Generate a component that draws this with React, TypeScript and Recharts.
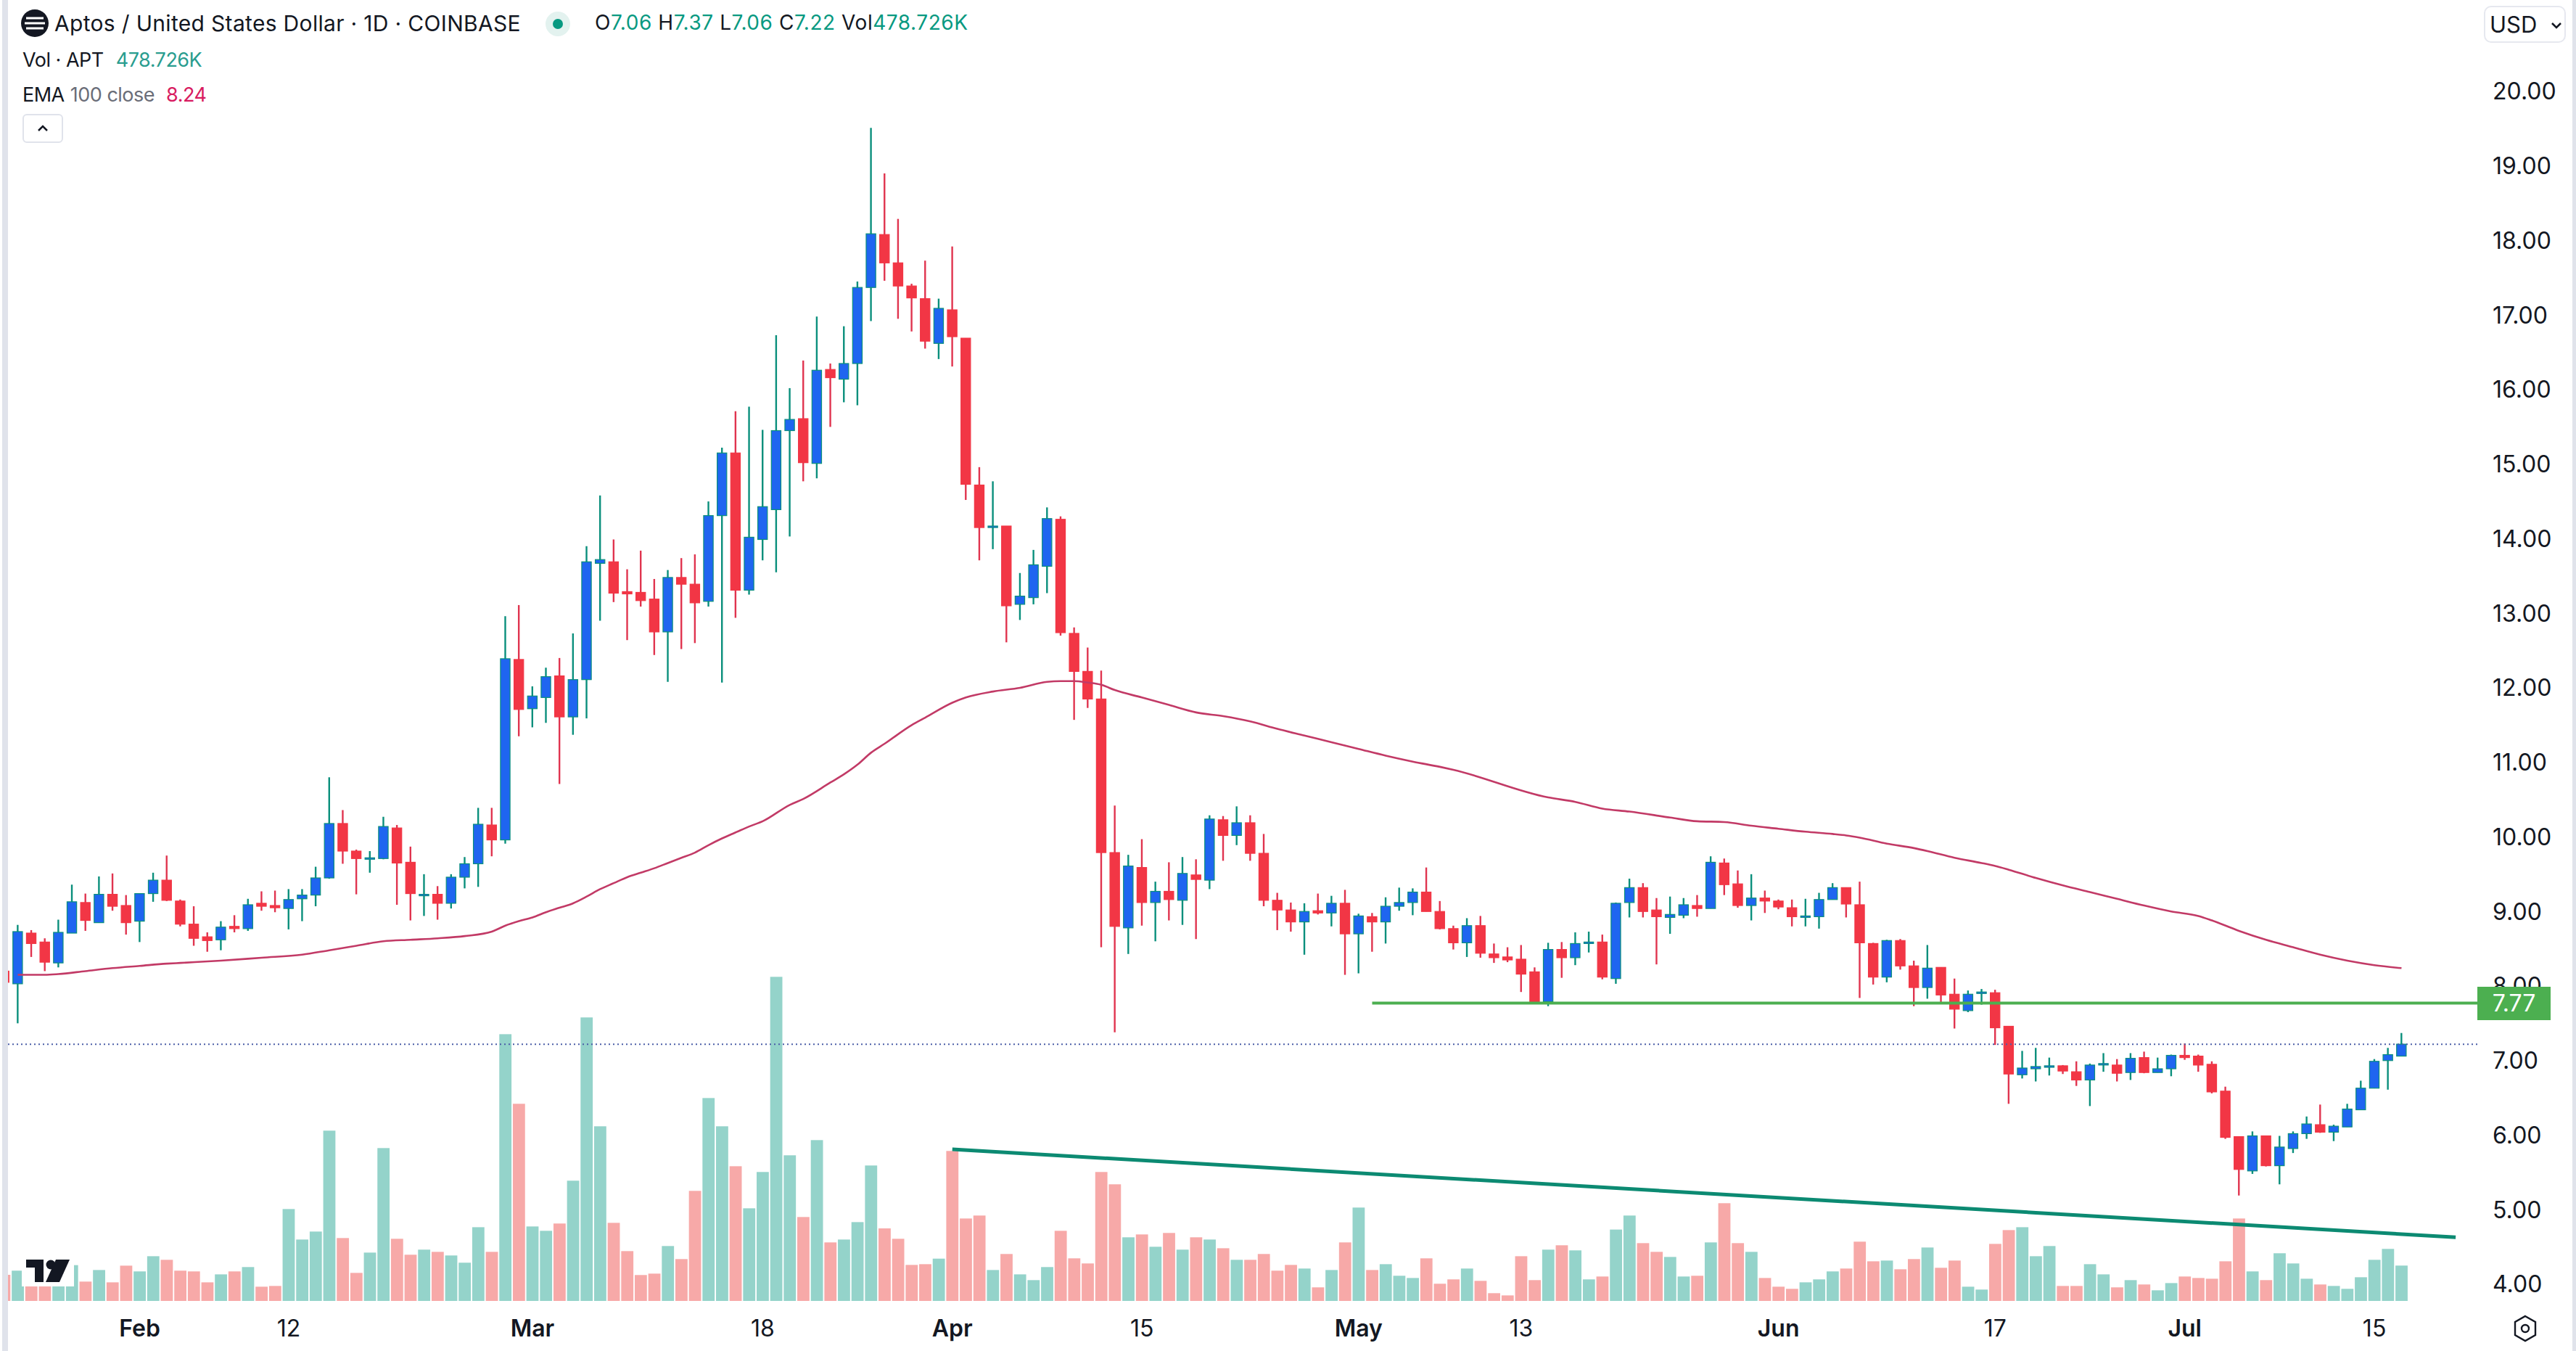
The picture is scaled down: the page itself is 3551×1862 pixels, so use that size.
import { Bar, ComposedChart, Line, ReferenceLine, XAxis, YAxis } from "recharts";

// bar index -1 is the clipped sliver at the left edge, 176 is the last bar (Jul 17)
const firstIndex = -1;

const opens = [
  8.2,
  8.03, 8.71, 8.59, 8.31, 8.71, 9.12, 8.85, 9.23, 9.08, 8.87,
  9.24, 9.42, 9.14, 8.83, 8.66, 8.62, 8.8, 8.77, 9.11, 9.08,
  9.04, 9.17, 9.22, 9.45, 10.18, 9.81, 9.71, 9.71, 10.12, 9.66,
  9.22, 9.23, 9.11, 9.46, 9.64, 10.16, 9.96, 12.38, 11.72, 11.87,
  12.16, 11.61, 12.11, 13.67, 13.69, 13.29, 13.28, 13.19, 12.75, 13.48,
  13.39, 13.16, 14.31, 15.15, 13.31, 13.99, 14.39, 15.45, 15.61, 15.01,
  16.27, 16.14, 16.35, 17.37, 18.08, 17.7, 17.39, 17.22, 16.62, 17.07,
  16.69, 14.72, 14.15, 14.17, 13.12, 13.21, 13.63, 14.26, 12.73, 12.22,
  11.85, 9.79, 8.78, 9.59, 9.12, 9.27, 9.15, 9.49, 9.42, 10.23,
  10.02, 10.19, 9.78, 9.15, 9.02, 8.86, 9.01, 8.98, 9.11, 8.7,
  8.93, 8.86, 9.07, 9.12, 9.26, 9.0, 8.77, 8.58, 8.81, 8.43,
  8.39, 8.36, 8.19, 7.79, 8.49, 8.38, 8.57, 8.59, 8.1, 9.12,
  9.32, 9.02, 8.92, 8.95, 9.08, 9.04, 9.65, 9.37, 9.08, 9.18,
  9.14, 9.05, 8.93, 8.93, 9.16, 9.32, 9.09, 8.57, 8.12, 8.61,
  8.27, 7.98, 8.25, 7.89, 7.67, 7.9, 7.91, 7.46, 6.81, 6.89,
  6.91, 6.93, 6.85, 6.74, 6.95, 6.94, 6.84, 7.04, 6.84, 6.89,
  7.07, 7.06, 6.95, 6.59, 5.98, 5.52, 5.99, 5.59, 5.82, 6.02,
  6.14, 6.04, 6.11, 6.34, 6.63, 7.0, 7.06,
];

const closes = [
  8.05,
  8.73, 8.57, 8.32, 8.72, 9.13, 8.88, 9.23, 9.07, 8.85, 9.24,
  9.42, 9.15, 8.83, 8.64, 8.61, 8.79, 8.77, 9.09, 9.07, 9.05,
  9.16, 9.22, 9.45, 10.18, 9.81, 9.71, 9.72, 10.14, 9.65, 9.24,
  9.23, 9.11, 9.46, 9.64, 10.17, 9.96, 12.39, 11.71, 11.89, 12.15,
  11.61, 12.11, 13.69, 13.72, 13.27, 13.26, 13.17, 12.75, 13.48, 13.39,
  13.14, 14.31, 15.15, 13.31, 14.02, 14.43, 15.45, 15.6, 15.02, 16.26,
  16.16, 16.35, 17.37, 18.09, 17.7, 17.39, 17.23, 16.65, 17.09, 16.71,
  14.73, 14.15, 14.17, 13.1, 13.23, 13.65, 14.27, 12.74, 12.22, 11.85,
  9.79, 8.8, 9.61, 9.12, 9.27, 9.16, 9.51, 9.43, 10.24, 10.02,
  10.19, 9.78, 9.15, 9.02, 8.86, 9.0, 8.98, 9.11, 8.7, 8.94,
  8.86, 9.07, 9.12, 9.26, 9.0, 8.77, 8.58, 8.81, 8.44, 8.38,
  8.35, 8.16, 7.79, 8.49, 8.38, 8.57, 8.59, 8.12, 9.11, 9.32,
  9.0, 8.93, 8.96, 9.09, 9.04, 9.66, 9.36, 9.08, 9.18, 9.14,
  9.06, 8.93, 8.94, 9.16, 9.32, 9.1, 8.58, 8.12, 8.61, 8.27,
  7.98, 8.24, 7.88, 7.69, 7.89, 7.92, 7.44, 6.82, 6.9, 6.92,
  6.93, 6.86, 6.74, 6.94, 6.96, 6.83, 7.03, 6.84, 6.89, 7.07,
  7.04, 6.94, 6.58, 5.97, 5.54, 5.99, 5.59, 5.84, 6.02, 6.15,
  6.04, 6.12, 6.35, 6.63, 6.99, 7.08, 7.22,
];

const highs = [
  8.3,
  8.82, 8.75, 8.64, 8.89, 9.36, 9.24, 9.47, 9.51, 9.22, 9.24,
  9.52, 9.75, 9.16, 9.07, 8.72, 8.87, 8.95, 9.17, 9.27, 9.28,
  9.3, 9.3, 9.6, 10.8, 10.36, 9.83, 9.81, 10.27, 10.16, 9.87,
  9.5, 9.34, 9.5, 9.73, 10.39, 10.39, 12.96, 13.11, 12.02, 12.27,
  12.4, 12.73, 13.9, 14.58, 13.99, 13.59, 13.84, 13.46, 13.58, 13.74,
  13.79, 14.5, 15.22, 15.71, 15.77, 15.46, 16.73, 16.02, 16.39, 16.98,
  16.35, 16.85, 17.45, 19.51, 18.9, 18.29, 17.42, 17.73, 17.22, 17.92,
  16.69, 14.96, 14.77, 14.17, 13.54, 13.85, 14.42, 14.3, 12.81, 12.54,
  12.23, 10.42, 9.76, 9.97, 9.4, 9.66, 9.73, 9.7, 10.29, 10.28,
  10.41, 10.29, 10.04, 9.25, 9.12, 9.11, 9.24, 9.21, 9.29, 8.97,
  8.98, 9.19, 9.32, 9.31, 9.59, 9.14, 8.81, 8.91, 8.94, 8.57,
  8.52, 8.55, 8.25, 8.58, 8.59, 8.72, 8.73, 8.69, 9.12, 9.44,
  9.38, 9.18, 9.2, 9.18, 9.22, 9.74, 9.71, 9.55, 9.5, 9.28,
  9.16, 9.16, 9.17, 9.25, 9.38, 9.32, 9.4, 8.58, 8.62, 8.63,
  8.34, 8.55, 8.25, 8.1, 7.94, 7.96, 7.95, 7.46, 7.13, 7.17,
  7.04, 6.94, 6.99, 6.96, 7.1, 7.02, 7.1, 7.12, 7.04, 7.08,
  7.23, 7.08, 6.99, 6.65, 5.98, 6.05, 5.99, 5.99, 6.05, 6.25,
  6.41, 6.14, 6.42, 6.73, 7.02, 7.17, 7.37,
];

const lows = [
  8.0,
  7.5, 8.39, 8.2, 8.25, 8.71, 8.74, 8.85, 9.01, 8.69, 8.59,
  9.13, 9.14, 8.8, 8.54, 8.46, 8.48, 8.72, 8.74, 9.01, 8.99,
  8.76, 8.87, 9.07, 9.44, 9.64, 9.23, 9.52, 9.7, 9.09, 8.88,
  8.94, 8.89, 9.04, 9.31, 9.33, 9.74, 9.91, 11.35, 11.47, 11.53,
  10.71, 11.37, 11.59, 12.9, 13.15, 12.64, 13.09, 12.44, 12.08, 12.52,
  12.6, 13.09, 12.07, 12.94, 13.25, 13.71, 13.55, 14.03, 14.77, 14.81,
  15.5, 15.83, 15.79, 16.92, 17.46, 16.95, 16.78, 16.55, 16.41, 16.31,
  14.52, 13.71, 13.86, 12.61, 12.91, 13.12, 13.27, 12.7, 11.57, 11.73,
  8.52, 7.38, 8.43, 8.81, 8.6, 8.88, 8.82, 8.63, 9.3, 9.68,
  9.89, 9.68, 9.07, 8.75, 8.73, 8.42, 8.96, 8.8, 8.15, 8.17,
  8.46, 8.57, 9.01, 8.95, 9.0, 8.76, 8.49, 8.39, 8.38, 8.31,
  8.32, 7.92, 7.78, 7.73, 8.11, 8.28, 8.45, 8.09, 8.03, 8.92,
  8.92, 8.29, 8.7, 8.91, 8.93, 9.04, 9.22, 9.05, 8.88, 8.98,
  9.03, 8.8, 8.8, 8.77, 9.16, 8.92, 7.84, 8.02, 8.05, 8.22,
  7.73, 7.83, 7.77, 7.43, 7.65, 7.75, 7.21, 6.42, 6.76, 6.72,
  6.8, 6.82, 6.66, 6.39, 6.85, 6.72, 6.74, 6.83, 6.84, 6.79,
  7.01, 6.85, 6.56, 5.95, 5.19, 5.48, 5.58, 5.34, 5.76, 5.95,
  6.03, 5.92, 6.11, 6.34, 6.63, 6.61, 7.06,
];

// thousands of APT
const volumes = [
  354,
  410, 338, 288, 387, 485, 262, 419, 252, 478, 400,
  606, 557, 410, 400, 252, 360, 400, 459, 193, 203,
  1245, 832, 940, 2307, 852, 380, 655, 2071, 842, 626,
  695, 665, 616, 518, 999, 665, 3614, 2671, 1009, 950,
  1049, 1629, 3841, 2366, 1058, 675, 351, 370, 744, 567,
  1491, 2749, 2366, 1825, 1255, 1747, 4391, 1973, 1137, 2179,
  793, 832, 1068, 1835, 983, 842, 488, 498, 573, 2032,
  1117, 1157, 419, 636, 360, 282, 459, 950, 577, 508,
  1747, 1580, 862, 901, 734, 921, 695, 862, 832, 714,
  557, 557, 636, 410, 488, 439, 184, 419, 793, 1265,
  419, 498, 341, 311, 577, 233, 292, 439, 272, 105,
  75, 606, 282, 695, 754, 685, 292, 331, 967, 1157,
  783, 665, 596, 331, 341, 793, 1324, 783, 665, 311,
  193, 164, 252, 292, 400, 439, 803, 537, 547, 429,
  567, 724, 449, 547, 193, 154, 773, 960, 999, 606,
  744, 203, 203, 498, 360, 184, 282, 223, 144, 242,
  331, 311, 301, 537, 1117, 400, 282, 646, 508, 301,
  223, 203, 164, 321, 557, 705, 479,
];

const emaIndexes = [
  0, 2, 3, 5, 7, 9, 11, 12, 15, 18, 21, 23, 25, 27, 29, 31, 33, 35, 36, 37, 38, 39, 40, 41, 42, 43, 44, 45, 46, 47, 48,
  49, 50, 51, 52, 53, 54, 55, 57, 58, 60, 61, 62, 63, 64, 66, 67, 69, 70, 72, 74, 76, 77, 78, 79, 80, 81, 83, 85, 87,
  89, 91, 93, 95, 97, 99, 101, 103, 105, 106, 113, 115, 117, 119, 122, 124, 126, 128, 130, 132, 134, 135, 136, 138,
  140, 141, 143, 145, 146, 147, 149, 151, 153, 155, 157, 159, 161, 162, 164, 166, 168, 170, 172, 174, 176,
];
const emaValues = [
  8.15, 8.15, 8.16, 8.2, 8.24, 8.27, 8.3, 8.31, 8.34, 8.38, 8.42, 8.48, 8.54, 8.6, 8.62, 8.64, 8.67, 8.73, 8.81, 8.87,
  8.92, 8.99, 9.05, 9.11, 9.2, 9.3, 9.38, 9.46, 9.52, 9.58, 9.65, 9.72, 9.79, 9.89, 9.98, 10.06, 10.14, 10.21, 10.43,
  10.51, 10.73, 10.84, 10.97, 11.13, 11.25, 11.5, 11.6, 11.8, 11.87, 11.95, 12.0, 12.08, 12.09, 12.09, 12.07, 12.04,
  11.97, 11.87, 11.77, 11.67, 11.62, 11.55, 11.45, 11.36, 11.27, 11.18, 11.09, 11.01, 10.94, 10.9, 10.53, 10.47, 10.38,
  10.34, 10.26, 10.21, 10.2, 10.15, 10.11, 10.07, 10.04, 10.02, 9.99, 9.91, 9.85, 9.81, 9.72, 9.65, 9.61, 9.56, 9.45,
  9.35, 9.26, 9.17, 9.08, 9.0, 8.94, 8.88, 8.74, 8.62, 8.52, 8.42, 8.34, 8.28, 8.24,
];

const priceTicks = [4, 5, 6, 7, 8, 9, 10, 11, 12, 13, 14, 15, 16, 17, 18, 19, 20];
const dateTickIndexes = [9, 20, 38, 55, 69, 83, 99, 111, 130, 146, 160, 174];
const dateTickLabels = ["Feb", "12", "Mar", "18", "Apr", "15", "May", "13", "Jun", "17", "Jul", "15"];

const lastClose = 7.22;
const supportPrice = 7.77;
const supportStart = 100;
const trendStart = { index: 69, price: 5.81 };
const trendEnd = { index: 180, price: 4.63 };

const BLUE = "#1f65f0";
const TEAL = "#0a8f7c";
const RED = "#f23645";
const VOL_TEAL = "#94d3ca";
const VOL_RED = "#f7a9a8";
const EMA_COLOR = "#c23a66";
const GREEN = "#4caf50";
const TEXT = "#131722";
const FONT = "Inter, 'Noto Sans', sans-serif";

const CHART_W = 3551;
const CHART_H = 1862;
const AXIS_W = 136;
const AXIS_H = 69;
const PLOT_LEFT = 11;
// the axis edges below line 4.00 up with y=1770 and 20.00 with y=126
const PRICE_DOMAIN = [3.776, 21.226];
const VOLUME_DOMAIN = [0, 17625];
const INDEX_DOMAIN = [-0.723, 181.6];

const emaByIndex = new Map(emaIndexes.map((idx, i) => [idx, emaValues[i]]));

const table = opens.map((open, i) => {
  const index = i + firstIndex;
  return {
    index,
    open,
    close: closes[i],
    high: highs[i],
    low: lows[i],
    range: [lows[i], highs[i]],
    volume: volumes[i],
    ema: emaByIndex.has(index) ? emaByIndex.get(index) : null,
  };
});

// candle drawn inside the [low, high] range bar recharts hands over
const CandleShape = (props: any) => {
  const { x, y, width, height, payload } = props;
  if (!payload || !height) return null;
  const perUnit = height / (payload.high - payload.low);
  const up = payload.close >= payload.open;
  const top = y + (payload.high - Math.max(payload.open, payload.close)) * perUnit;
  const bodyH = Math.max(Math.abs(payload.close - payload.open) * perUnit, 2);
  const mid = x + width / 2;
  return (
    <g>
      <line x1={mid} x2={mid} y1={y} y2={y + height} stroke={up ? TEAL : "#e0344f"} strokeWidth={2.4} />
      <rect
        x={x + 0.6}
        y={top}
        width={width - 1.2}
        height={bodyH}
        fill={up ? BLUE : RED}
        stroke={up ? TEAL : RED}
        strokeWidth={1.2}
      />
    </g>
  );
};

const VolumeShape = (props: any) => {
  const { x, y, width, height, payload } = props;
  if (!payload) return null;
  return <rect x={x} y={y} width={width} height={height} fill={payload.close >= payload.open ? VOL_TEAL : VOL_RED} />;
};

const DateTick = (props: any) => {
  const { x, y, payload } = props;
  const label = dateTickLabels[dateTickIndexes.indexOf(payload.value)];
  const isMonth = /[a-z]/i.test(label);
  return (
    <text x={x} y={y} dy={47} textAnchor="middle" fontFamily={FONT} fontSize={32} fontWeight={isMonth ? 600 : 400} fill={TEXT}>
      {label}
    </text>
  );
};

const legendLine: React.CSSProperties = {
  position: "absolute",
  left: 31,
  fontFamily: FONT,
  whiteSpace: "nowrap",
  color: TEXT,
};

// sits above the price axis so it covers the lower half of the 8.00 label, as on the original
function SupportBadge() {
  const plotH = CHART_H - AXIS_H;
  const share = (PRICE_DOMAIN[1] - supportPrice) / (PRICE_DOMAIN[1] - PRICE_DOMAIN[0]);
  const centerY = plotH * share;
  return (
    <div
      style={{
        position: "absolute",
        left: CHART_W - AXIS_W,
        top: centerY - 23,
        width: 101,
        height: 46,
        lineHeight: "46px",
        textAlign: "center",
        background: GREEN,
        color: "#ffffff",
        fontFamily: FONT,
        fontSize: 32,
      }}
    >
      {supportPrice.toFixed(2)}
    </div>
  );
}

function Legend() {
  return (
    <>
      <svg width={40} height={40} style={{ position: "absolute", left: 28, top: 12 }} viewBox="0 0 40 40">
        <circle cx={20} cy={20} r={19} fill={TEXT} />
        <path d="M8 13h24M6 20h28M8 27h24" stroke="#ffffff" strokeWidth={3} fill="none" />
      </svg>
      <div style={{ ...legendLine, left: 75, top: 14, fontSize: 30, letterSpacing: 0.32 }}>
        Aptos / United States Dollar · 1D · COINBASE
      </div>
      <svg width={36} height={36} style={{ position: "absolute", left: 751, top: 15 }}>
        <circle cx={18} cy={18} r={17} fill="#e3f2ef" />
        <circle cx={18} cy={18} r={7} fill="#089981" />
      </svg>
      <div style={{ ...legendLine, left: 820, top: 14, fontSize: 28, letterSpacing: 0.55 }}>
        O<span style={{ color: "#089981" }}>7.06</span> H<span style={{ color: "#089981" }}>7.37</span> L
        <span style={{ color: "#089981" }}>7.06</span> C<span style={{ color: "#089981" }}>7.22</span> Vol
        <span style={{ color: "#089981" }}>478.726K</span>
      </div>
      <div style={{ ...legendLine, top: 66, fontSize: 27, letterSpacing: -0.5 }}>
        Vol · APT<span style={{ color: "#2a9d8f", marginLeft: 17 }}>478.726K</span>
      </div>
      <div style={{ ...legendLine, top: 114, fontSize: 27, letterSpacing: -0.5 }}>
        EMA<span style={{ color: "#6a6d78", marginLeft: 8 }}>100 close</span>
        <span style={{ color: "#d81b60", marginLeft: 16 }}>8.24</span>
      </div>
      <div
        style={{
          position: "absolute",
          left: 31,
          top: 157,
          width: 56,
          height: 40,
          boxSizing: "border-box",
          border: "2px solid #e0e3eb",
          borderRadius: 6,
          background: "#fff",
        }}
      >
        <svg width={52} height={36}>
          <path d="M20 21l6-6 6 6" stroke={TEXT} strokeWidth={2.5} fill="none" />
        </svg>
      </div>
      <div
        style={{
          position: "absolute",
          left: 3424,
          top: 8,
          width: 113,
          height: 51,
          boxSizing: "border-box",
          border: "2px solid #e6e8ef",
          borderRadius: 10,
          background: "#fff",
        }}
      >
        <span style={{ position: "absolute", left: 6, top: 5, fontFamily: FONT, fontSize: 31, color: TEXT }}>USD</span>
        <svg width={20} height={14} style={{ position: "absolute", left: 88, top: 18 }}>
          <path d="M4 4l6 6 6-6" stroke={TEXT} strokeWidth={2.6} fill="none" />
        </svg>
      </div>
      <svg width={72} height={42} style={{ position: "absolute", left: 30, top: 1731 }} viewBox="0 0 72 42">
        <rect width={72} height={42} fill="#ffffff" />
        <path d="M6 5h24v31H18V16H6z" fill={TEXT} />
        <circle cx={40} cy={12} r={6.5} fill={TEXT} />
        <path d="M47 5h19L52 36H33z" fill={TEXT} />
      </svg>
      <svg width={36} height={40} style={{ position: "absolute", left: 3463, top: 1811 }} viewBox="0 0 36 40">
        <path d="M18 3l14 8v18l-14 8-14-8V11z" fill="none" stroke={TEXT} strokeWidth={2.4} />
        <circle cx={18} cy={20} r={5} fill="none" stroke={TEXT} strokeWidth={2.4} />
      </svg>
    </>
  );
}

export default function App() {
  return (
    <div style={{ position: "absolute", left: 0, top: 0, width: CHART_W, height: CHART_H, background: "#fff", overflow: "hidden" }}>
      <ComposedChart
        width={CHART_W}
        height={CHART_H}
        data={table}
        margin={{ top: 0, right: 0, bottom: 0, left: PLOT_LEFT }}
      >
        <XAxis
          xAxisId="main"
          dataKey="index"
          type="number"
          domain={INDEX_DOMAIN}
          allowDataOverflow
          ticks={dateTickIndexes}
          interval={0}
          height={AXIS_H}
          axisLine={false}
          tickLine={false}
          tickSize={0}
          tick={<DateTick />}
        />
        <XAxis xAxisId="vol" dataKey="index" type="number" domain={INDEX_DOMAIN} allowDataOverflow hide />
        <YAxis
          yAxisId="price"
          orientation="right"
          domain={PRICE_DOMAIN}
          allowDataOverflow
          ticks={priceTicks}
          interval={0}
          width={AXIS_W}
          axisLine={false}
          tickLine={false}
          tickSize={0}
          tickMargin={21}
          tickFormatter={(value: number) => value.toFixed(2)}
          tick={{ fontFamily: FONT, fontSize: 32, fill: TEXT }}
        />
        <YAxis yAxisId="vol" domain={VOLUME_DOMAIN} allowDataOverflow hide />
        <ReferenceLine
          xAxisId="main"
          yAxisId="price"
          segment={[
            { x: trendStart.index, y: trendStart.price },
            { x: trendEnd.index, y: trendEnd.price },
          ]}
          stroke="#0c8a72"
          strokeWidth={5}
        />
        <Bar xAxisId="vol" yAxisId="vol" dataKey="volume" barSize={16.8} shape={<VolumeShape />} isAnimationActive={false} />
        <ReferenceLine
          xAxisId="main"
          yAxisId="price"
          y={lastClose}
          stroke="#4c5fa8"
          strokeWidth={2}
          strokeDasharray="2 4"
        />
        <Bar xAxisId="main" yAxisId="price" dataKey="range" barSize={14.4} shape={<CandleShape />} isAnimationActive={false} />
        <Line
          xAxisId="main"
          yAxisId="price"
          dataKey="ema"
          type="monotone"
          connectNulls
          dot={false}
          stroke={EMA_COLOR}
          strokeWidth={2.6}
          isAnimationActive={false}
        />
        <ReferenceLine
          xAxisId="main"
          yAxisId="price"
          segment={[
            { x: supportStart, y: supportPrice },
            { x: INDEX_DOMAIN[1], y: supportPrice },
          ]}
          stroke={GREEN}
          strokeWidth={4}
        />
      </ComposedChart>
      <SupportBadge />
      <div style={{ position: "absolute", left: 3, top: 0, width: 8, height: CHART_H, background: "#e0e3eb" }} />
      <div style={{ position: "absolute", right: 0, top: 0, width: 5, height: CHART_H, background: "#e0e3eb" }} />
      <Legend />
    </div>
  );
}
